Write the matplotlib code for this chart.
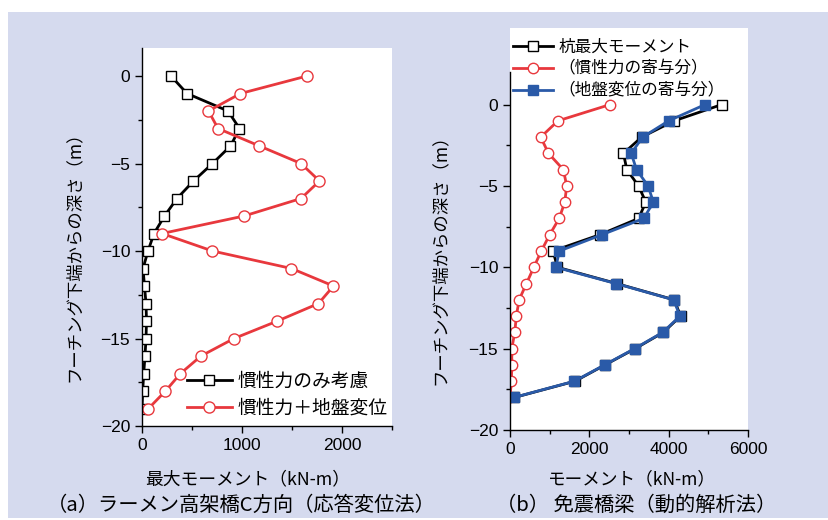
import numpy as np
import matplotlib.pyplot as plt
from matplotlib.patches import Rectangle
from matplotlib.ticker import MultipleLocator

JP = ['Noto Sans CJK JP', 'DejaVu Sans']
NUM = 'Liberation Sans'
BG = '#D5DAEE'
RED = '#E8383D'
BLUE = '#2A5AA8'

# (a) depth 0..-19
depth_a = np.arange(0, -20, -1)
inertia_only = [290, 450, 860, 975, 885, 705, 515, 350, 225, 120,
                60, 10, 25, 40, 45, 40, 30, 17, 7, 0]
inertia_ground = [1650, 985, 665, 760, 1175, 1590, 1775, 1590, 1020, 200,
                  705, 1495, 1915, 1765, 1355, 920, 590, 385, 235, 65]

# (b) depth 0..-18
depth_b = np.arange(0, -19, -1)
pile_max = [5340, 4140, 3320, 2860, 2945, 3240, 3425, 3240, 2265, 1085,
            1195, 2690, 4140, 4300, 3865, 3155, 2395, 1640, 110]
inertia_part = [2525, 1210, 775, 970, 1345, 1430, 1380, 1240, 1000, 790,
                600, 415, 230, 160, 120, 45, 45, 35, 0]
ground_part = [4920, 4000, 3345, 3055, 3190, 3480, 3615, 3370, 2315, 1245,
               1155, 2670, 4125, 4285, 3850, 3140, 2385, 1625, 100]

W, H = 829, 520
fig = plt.figure(figsize=(W / 100, H / 100), dpi=100)
fig.patch.set_facecolor('white')
fig.add_artist(Rectangle((8 / W, 0.004), 1, (508 - 2) / H, transform=fig.transFigure,
                         facecolor=BG, edgecolor='none', zorder=-10))


def px(x0, y0, x1, y1):
    return [x0 / W, 1 - y1 / H, (x1 - x0) / W, (y1 - y0) / H]


def style(ax):
    for s in ['top', 'right']:
        ax.spines[s].set_visible(False)
    ax.spines['left'].set_linewidth(1.0)
    ax.spines['bottom'].set_linewidth(1.0)
    ax.yaxis.set_major_locator(MultipleLocator(5))
    ax.yaxis.set_minor_locator(MultipleLocator(2.5))
    ax.tick_params(which='major', direction='out', length=5, width=1.0, labelsize=12.5)
    ax.tick_params(which='minor', direction='out', length=3, width=1.0)
    for lab in ax.get_xticklabels() + ax.get_yticklabels():
        lab.set_family(NUM)


# ---- panel (a)
ax1 = fig.add_axes(px(142, 48, 392, 426))
ax1.set_facecolor('white')
ax1.plot(inertia_only, depth_a, '-s', color='black', lw=2.0, ms=7.5,
         mfc='white', mec='black', mew=1.0, label='慣性力のみ考慮')
ax1.plot(inertia_ground, depth_a, '-o', color=RED, lw=2.0, ms=8,
         mfc='white', mec=RED, mew=1.0, label='慣性力＋地盤変位')
ax1.set_xlim(0, 2500)
ax1.set_ylim(-20, 1.6)
ax1.xaxis.set_major_locator(MultipleLocator(1000))
ax1.xaxis.set_minor_locator(MultipleLocator(500))
style(ax1)
ax1.legend(loc='lower right', bbox_to_anchor=(1.012, 0.0), frameon=False,
           prop={'family': JP, 'size': 13.5}, handlelength=2.4, handletextpad=0.3,
           labelspacing=0.3, borderaxespad=0.0)

# ---- panel (b)
ax2 = fig.add_axes(px(510, 72, 748, 430))
ax2.set_facecolor('white')
fig.add_artist(Rectangle((510 / W, 1 - 72 / H), 238 / W, 44 / H, transform=fig.transFigure,
                         facecolor='white', edgecolor='none', zorder=0))
ax2.plot(pile_max, depth_b, '-s', color='black', lw=2.0, ms=7,
         mfc='white', mec='black', mew=1.0, label='杭最大モーメント')
ax2.plot(inertia_part, depth_b, '-o', color=RED, lw=2.0, ms=7.5,
         mfc='white', mec=RED, mew=1.0, label='（慣性力の寄与分）')
ax2.plot(ground_part, depth_b, '-s', color=BLUE, lw=2.0, ms=7,
         mfc=BLUE, mec=BLUE, mew=1.0, label='（地盤変位の寄与分）')
ax2.set_xlim(0, 6000)
ax2.set_ylim(-20, 2)
ax2.xaxis.set_major_locator(MultipleLocator(2000))
ax2.xaxis.set_minor_locator(MultipleLocator(1000))
style(ax2)
leg = ax2.legend(loc='upper left', bbox_to_anchor=(0.0, 1 + 37 / 358), frameon=False,
                 prop={'family': JP, 'size': 12}, handlelength=2.4, handletextpad=0.3,
                 labelspacing=0.3, borderaxespad=0.0, borderpad=0.2)
leg.set_clip_on(False)

# ---- labels
fig.text(74 / W, 1 - 252 / H, 'フーチング下端からの深さ（m）', rotation=90,
         ha='center', va='center', family=JP, fontsize=12.5)
fig.text(440 / W, 1 - 255 / H, 'フーチング下端からの深さ（m）', rotation=90,
         ha='center', va='center', family=JP, fontsize=12.5)
fig.text(248 / W, 1 - 479 / H, '最大モーメント（kN-m）', ha='center', va='center',
         family=JP, fontsize=12.8)
fig.text(632 / W, 1 - 479 / H, 'モーメント（kN-m）', ha='center', va='center',
         family=JP, fontsize=12.7)
fig.text(241 / W, 1 - 505 / H, '（a）ラーメン高架橋C方向（応答変位法）', ha='center',
         va='center', family=JP, fontsize=14.6)
fig.text(636 / W, 1 - 505 / H, '（b） 免震橋梁（動的解析法）', ha='center',
         va='center', family=JP, fontsize=14.6)

fig.savefig('out.png', dpi=100, facecolor=fig.get_facecolor())
